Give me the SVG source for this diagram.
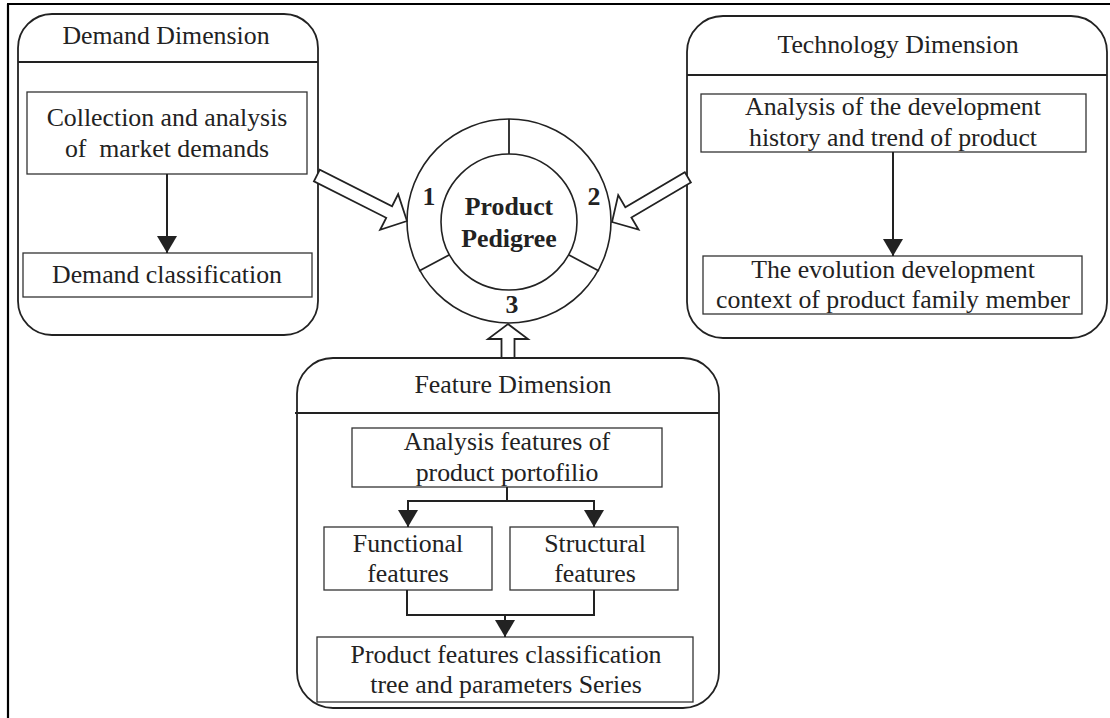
<svg xmlns="http://www.w3.org/2000/svg" width="1110" height="718" viewBox="0 0 1110 718">
  <defs>
    <style>
      .frame { fill: none; stroke: #000; stroke-width: 2.2; }
      .panel { fill: #fff; stroke: #222; stroke-width: 1.8; }
      .rule { stroke: #222; stroke-width: 1.8; }
      .box { fill: #fff; stroke: #333; stroke-width: 1.3; }
      .wire { fill: none; stroke: #222; stroke-width: 2; }
      .hollow { fill: #fff; stroke: #222; stroke-width: 1.8; stroke-linejoin: miter; }
      .ring { fill: #fff; stroke: #222; stroke-width: 1.6; }
      text { font-family: "Liberation Serif", "Times New Roman", serif; font-size: 25.8px; fill: #222; text-anchor: middle; }
      .bold { font-weight: bold; }
    </style>
    <marker id="head" viewBox="0 0 20 18" refX="20" refY="9" markerWidth="17" markerHeight="20" markerUnits="userSpaceOnUse" orient="auto" preserveAspectRatio="none">
      <path d="M0,0 L20,9 L0,18 Z" fill="#222"/>
    </marker>
  </defs>

  <!-- outer frame: top and left edges -->
  <path class="frame" d="M7,4 H1110 M8,4 V718"/>

  <!-- Demand Dimension panel -->
  <g id="demand">
    <rect class="panel" x="18" y="14" width="300" height="321" rx="34"/>
    <line class="rule" x1="18" y1="62" x2="318" y2="62"/>
    <text x="166" y="44">Demand Dimension</text>
    <g id="demand-collect">
      <rect class="box" x="27" y="92" width="280" height="82"/>
      <text x="167" y="126">Collection and analysis</text>
      <text x="167" y="157">of&#160; market demands</text>
    </g>
    <g id="demand-class">
      <rect class="box" x="23" y="253" width="289" height="44"/>
      <text x="167" y="283">Demand classification</text>
    </g>
  </g>

  <!-- Technology Dimension panel -->
  <g id="technology">
    <rect class="panel" x="687" y="16" width="420" height="322" rx="36"/>
    <line class="rule" x1="687" y1="75" x2="1107" y2="75"/>
    <text x="898" y="53">Technology Dimension</text>
    <g id="tech-history">
      <rect class="box" x="701" y="94" width="385" height="58"/>
      <text x="893" y="115">Analysis of the development</text>
      <text x="893" y="146">history and trend of product</text>
    </g>
    <g id="tech-context">
      <rect class="box" x="703" y="256" width="379" height="58"/>
      <text x="893" y="278">The evolution development</text>
      <text x="893" y="308">context of product family member</text>
    </g>
  </g>

  <!-- Feature Dimension panel -->
  <g id="feature">
    <rect class="panel" x="297" y="358" width="422" height="350" rx="36"/>
    <line class="rule" x1="295" y1="413" x2="719" y2="413"/>
    <text x="513" y="393">Feature Dimension</text>
    <g id="feat-analysis">
      <rect class="box" x="352" y="428" width="310" height="59"/>
      <text x="507" y="450">Analysis features of</text>
      <text x="507" y="481">product portofilio</text>
    </g>
    <g id="feat-functional">
      <rect class="box" x="324" y="527" width="168" height="63"/>
      <text x="408" y="552">Functional</text>
      <text x="408" y="582">features</text>
    </g>
    <g id="feat-structural">
      <rect class="box" x="510" y="527" width="168" height="63"/>
      <text x="595" y="552">Structural</text>
      <text x="595" y="582">features</text>
    </g>
    <g id="feat-tree">
      <rect class="box" x="317" y="637" width="376" height="65"/>
      <text x="506" y="663">Product features classification</text>
      <text x="506" y="693">tree and parameters Series</text>
    </g>
  </g>

  <!-- Product Pedigree ring -->
  <g id="pedigree">
    <circle class="ring" cx="509" cy="221" r="102"/>
    <circle class="ring" cx="509" cy="222" r="68"/>
    <line class="rule" x1="509" y1="119" x2="509" y2="154"/>
    <line class="rule" x1="419" y1="271" x2="449" y2="255"/>
    <line class="rule" x1="599" y1="271" x2="569" y2="255"/>
    <text class="bold" x="509" y="215">Product</text>
    <text class="bold" x="509" y="247">Pedigree</text>
    <text class="bold" x="429" y="205">1</text>
    <text class="bold" x="594" y="205">2</text>
    <text class="bold" x="512" y="313">3</text>
  </g>

  <!-- connectors -->
  <g id="connectors">
    <line class="wire" x1="167" y1="174" x2="167" y2="253" marker-end="url(#head)"/>
    <line class="wire" x1="893" y1="152" x2="893" y2="256" marker-end="url(#head)"/>
    <path class="wire" d="M507,487 V501 H408 V527" marker-end="url(#head)"/>
    <path class="wire" d="M507,501 H594 V527" marker-end="url(#head)"/>
    <path class="wire" d="M407,590 V615 H594 V590"/>
    <line class="wire" x1="505" y1="615" x2="505" y2="637" marker-end="url(#head)"/>

    <!-- hollow block arrows into the ring -->
    <polygon class="hollow" transform="translate(407,221) rotate(26.8)" points="0,0 -20,-20 -20,-6.5 -101,-6.5 -101,6.5 -20,6.5 -20,20"/>
    <polygon class="hollow" transform="translate(612,222) rotate(149.5)" points="0,0 -19,-20 -19,-6 -88,-6 -88,6 -19,6 -19,20"/>
    <polygon class="hollow" points="508,324 528,339 514.5,339 514.5,358 501.5,358 501.5,339 488,339"/>
  </g>
</svg>
